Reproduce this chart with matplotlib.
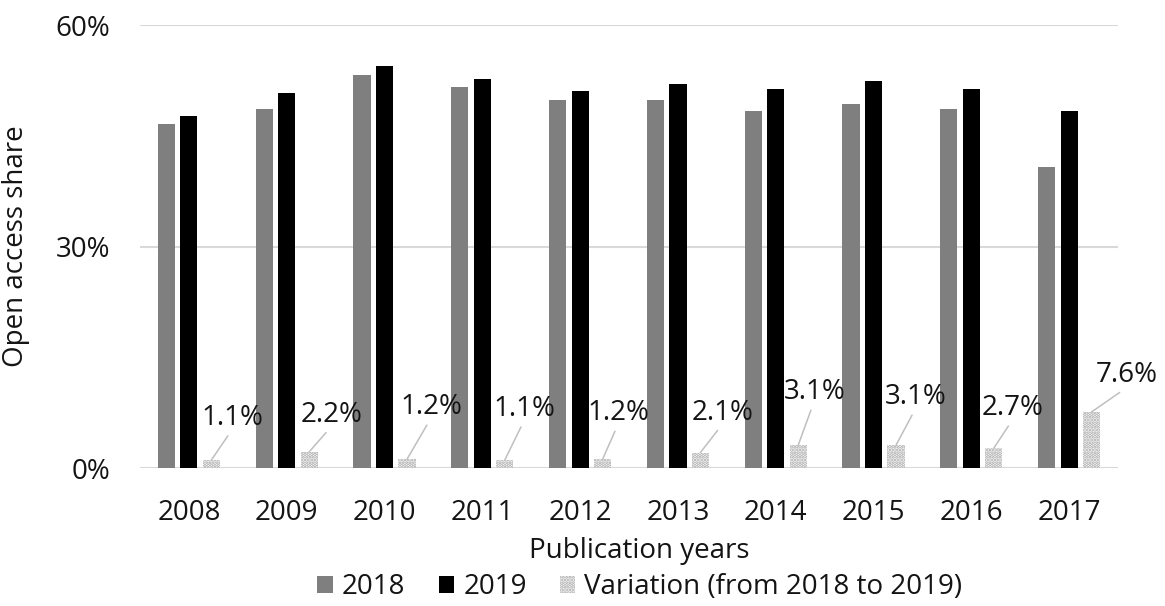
import numpy as np
import matplotlib
matplotlib.use("Agg")
import matplotlib.pyplot as plt
from matplotlib.patches import Patch
from matplotlib.ticker import FuncFormatter

# Open access share by publication year, measured in 2018 and 2019
years = ["2008", "2009", "2010", "2011", "2012", "2013", "2014", "2015", "2016", "2017"]
share_2018 = [46.6, 48.6, 53.2, 51.6, 49.8, 49.9, 48.3, 49.3, 48.6, 40.8]
share_2019 = [47.7, 50.8, 54.4, 52.7, 51.0, 52.0, 51.4, 52.4, 51.3, 48.4]
variation = [1.1, 2.2, 1.2, 1.1, 1.2, 2.1, 3.1, 3.1, 2.7, 7.6]
variation_labels = ["1.1%", "2.2%", "1.2%", "1.1%", "1.2%", "2.1%", "3.1%", "3.1%", "2.7%", "7.6%"]
y_ticks = [0, 30, 60]

# Placement of each variation label relative to its bar top (pixels)
label_dx = [21, 22, 24, 20, 16, 22, 16, 20, 19, 35]
label_dy = [42, 37, 52, 51, 46, 40, 53, 48, 40, 37]

plt.rcParams["font.family"] = ["Open Sans", "DejaVu Sans"]
plt.rcParams["hatch.linewidth"] = 1.8
TEXT = "#141414"
FS = 20
HATCH_COLOR = "#a8a8a8"

fig = plt.figure(figsize=(11.65, 6.06), dpi=100)
ax = fig.add_axes([0.1202, 0.2277, 0.8395, 0.731])

x = np.arange(len(years))
w = 0.175
off = 0.23
ax.bar(x - off, share_2018, width=w, color="#7f7f7f", zorder=3, label="2018")
ax.bar(x, share_2019, width=w, color="#000000", zorder=3, label="2019")
ax.bar(x + off, variation, width=w, facecolor="white", edgecolor=HATCH_COLOR,
       linewidth=0, hatch=".....", zorder=3, label="Variation (from 2018 to 2019)")

for i, (v, lab) in enumerate(zip(variation, variation_labels)):
    ax.annotate(lab, xy=(x[i] + off, v), xytext=(label_dx[i], label_dy[i]),
                textcoords="offset pixels", ha="center", va="center",
                fontsize=FS, color=TEXT, zorder=5,
                arrowprops=dict(arrowstyle="-", color="#bfbfbf", lw=1.1,
                                relpos=(0.47, 0.0), shrinkA=1, shrinkB=0))

ax.set_xlim(-0.5, len(years) - 0.5)
ax.set_ylim(0, 60)
ax.set_yticks(y_ticks)
ax.yaxis.set_major_formatter(FuncFormatter(lambda v, p: f"{v:.0f}%"))
ax.set_xticks(x)
ax.set_xticklabels(years)
ax.tick_params(axis="both", length=0, labelsize=FS, colors=TEXT)
ax.tick_params(axis="y", pad=21.6)
ax.tick_params(axis="x", pad=22)
ax.grid(axis="y", color="#d9d9d9", linewidth=1.5, zorder=0)
for s in ax.spines.values():
    s.set_visible(False)

ax.set_ylabel("Open access share", fontsize=FS, color=TEXT)
ax.yaxis.set_label_coords(-0.1125, 0.5)
ax.set_xlabel("Publication years", fontsize=FS, color=TEXT)
ax.xaxis.set_label_coords(0.51, -0.156)

handles = [
    Patch(facecolor="#7f7f7f", label="2018"),
    Patch(facecolor="#000000", label="2019"),
    Patch(facecolor="white", edgecolor=HATCH_COLOR, linewidth=0, hatch=".....",
          label="Variation (from 2018 to 2019)"),
]
leg = fig.legend(handles=handles, loc="center", bbox_to_anchor=(640 / 1165, 1 - 587 / 606),
                 ncol=3, frameon=False, fontsize=FS, handlelength=0.55, handleheight=0.55,
                 handletextpad=0.33, columnspacing=1.2, borderaxespad=0, borderpad=0)
for t in leg.get_texts():
    t.set_color(TEXT)

fig.savefig("out.png", dpi=100)
